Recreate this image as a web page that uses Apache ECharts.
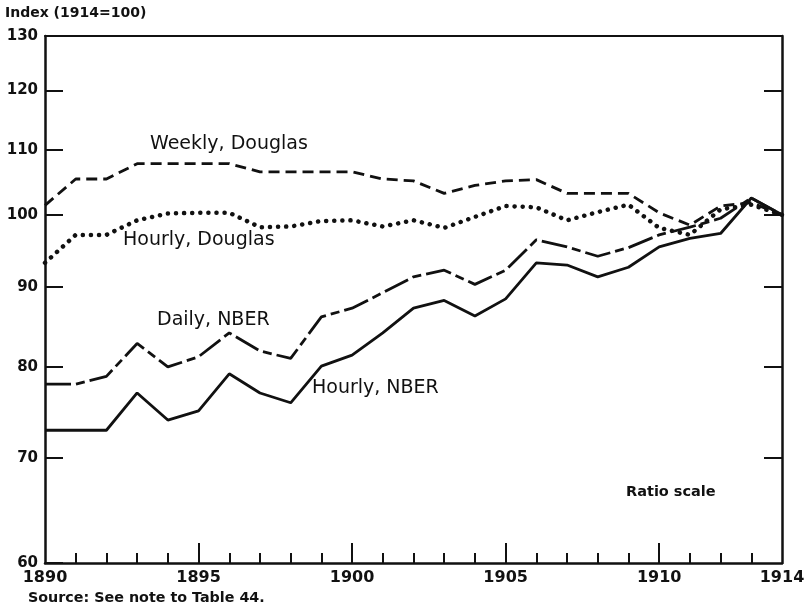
<!DOCTYPE html>
<html>
<head>
<meta charset="utf-8">
<script src="https://cdn.jsdelivr.net/npm/echarts@6/dist/echarts.min.js"></script>
<style>html,body{margin:0;padding:0;background:#fff;}#c{width:804px;height:612px;}</style>
</head>
<body>
<div id="c"></div>
<script>
const years = [1890,1891,1892,1893,1894,1895,1896,1897,1898,1899,1900,1901,1902,1903,1904,1905,1906,1907,1908,1909,1910,1911,1912,1913,1914];
const weeklyDouglas = [101.4,105.4,105.4,107.8,107.8,107.8,107.8,106.5,106.5,106.5,106.5,105.4,105.1,103.2,104.4,105.1,105.3,103.2,103.2,103.2,100.3,98.5,101.3,101.8,100];
const hourlyDouglas = [93.2,97.1,97.1,99.2,100.2,100.3,100.3,98.2,98.3,99.1,99.2,98.3,99.2,98.1,99.7,101.3,101.1,99.2,100.4,101.5,98.1,97.1,100.8,101.5,100];
const dailyNBER = [78.0,78.0,78.9,82.8,80.0,81.2,84.1,81.9,81.0,86.1,87.2,89.2,91.3,92.2,90.3,92.2,96.4,95.4,94.1,95.3,97.1,98.2,99.5,102.5,100];
const hourlyNBER = [72.9,72.9,72.9,77.0,74.0,75.0,79.2,77.0,75.9,80.1,81.4,84.1,87.2,88.2,86.2,88.4,93.2,92.9,91.3,92.6,95.4,96.6,97.3,102.5,100];
const yTicks = [60,70,80,90,100,110,120,130];
const xLabels = [1890,1895,1900,1905,1910,1914];
const xMajor = [1895,1900,1905,1910];
const xMinor = years.filter(y => y % 5 !== 0 && y !== 1914);

const pair = arr => years.map((y,i) => [y, arr[i]]);
const ink = '#111';
const font = 'DejaVu Sans';

const chart = echarts.init(document.getElementById('c'));
chart.setOption({
  animation: false,
  backgroundColor: '#fff',
  grid: {left: 45, right: 22, top: 36, bottom: 49, containLabel: false, outerBoundsMode: 'none'},
  xAxis: [
    {type:'value', min:1890, max:1914, position:'bottom',
     axisLine:{show:true, lineStyle:{color:ink, width:2.5}},
     axisTick:{show:true, inside:true, length:10, lineStyle:{color:ink, width:2}, customValues: xMinor},
     axisLabel:{show:true, customValues: xLabels, formatter: v => String(v), color:ink, fontFamily:font, fontWeight:'bold', fontSize:16, margin:7},
     splitLine:{show:false}},
    {type:'value', min:1890, max:1914, position:'bottom',
     axisLine:{show:false},
     axisTick:{show:true, inside:true, length:20, lineStyle:{color:ink, width:2}, customValues: xMajor},
     axisLabel:{show:false}, splitLine:{show:false}},
    {type:'value', min:1890, max:1914, position:'top',
     axisLine:{show:true, lineStyle:{color:ink, width:2}},
     axisTick:{show:false}, axisLabel:{show:false}, splitLine:{show:false}}
  ],
  yAxis: [
    {type:'log', logBase:10, min:60, max:130, position:'left',
     axisLine:{show:true, lineStyle:{color:ink, width:2.5}},
     axisTick:{show:true, inside:true, length:18, lineStyle:{color:ink, width:2}, customValues: yTicks},
     axisLabel:{show:true, customValues: yTicks, formatter: v => String(v), color:ink, fontFamily:font, fontWeight:'bold', fontSize:15, margin:7},
     splitLine:{show:false}},
    {type:'log', logBase:10, min:60, max:130, position:'right',
     axisLine:{show:true, lineStyle:{color:ink, width:2.5}},
     axisTick:{show:true, inside:true, length:18, lineStyle:{color:ink, width:2}, customValues: yTicks.slice(1,-1)},
     axisLabel:{show:false}, splitLine:{show:false}}
  ],
  series: [
    {name:'Weekly, Douglas', type:'line', data: pair(weeklyDouglas), showSymbol:false, symbol:'none',
     lineStyle:{color:ink, width:2.8, type:[11,6]}},
    {name:'Hourly, Douglas', type:'line', data: pair(hourlyDouglas), showSymbol:false, symbol:'none',
     lineStyle:{color:ink, width:4.5, type:[0.1,8], cap:'round'}},
    {name:'Daily, NBER', type:'line', data: pair(dailyNBER), showSymbol:false, symbol:'none',
     lineStyle:{color:ink, width:2.8, type:[26,5,9,5]}},
    {name:'Hourly, NBER', type:'line', data: pair(hourlyNBER), showSymbol:false, symbol:'none',
     lineStyle:{color:ink, width:2.8}}
  ],
  graphic: [
    {type:'text', left:5, top:6, style:{text:'Index (1914=100)', fill:ink, font:'bold 14px "DejaVu Sans"'}},
    {type:'text', left:150, top:135, style:{text:'Weekly, Douglas', fill:ink, font:'19px "DejaVu Sans"'}},
    {type:'text', left:123, top:231, style:{text:'Hourly, Douglas', fill:ink, font:'19px "DejaVu Sans"'}},
    {type:'text', left:157, top:311, style:{text:'Daily, NBER', fill:ink, font:'19px "DejaVu Sans"'}},
    {type:'text', left:312, top:379, style:{text:'Hourly, NBER', fill:ink, font:'19px "DejaVu Sans"'}},
    {type:'text', left:626, top:485, style:{text:'Ratio scale', fill:ink, font:'bold 14.5px "DejaVu Sans"'}},
    {type:'text', left:28, top:591, style:{text:'Source: See note to Table 44.', fill:ink, font:'bold 14.3px "DejaVu Sans"'}}
  ]
});
</script>
</body>
</html>
